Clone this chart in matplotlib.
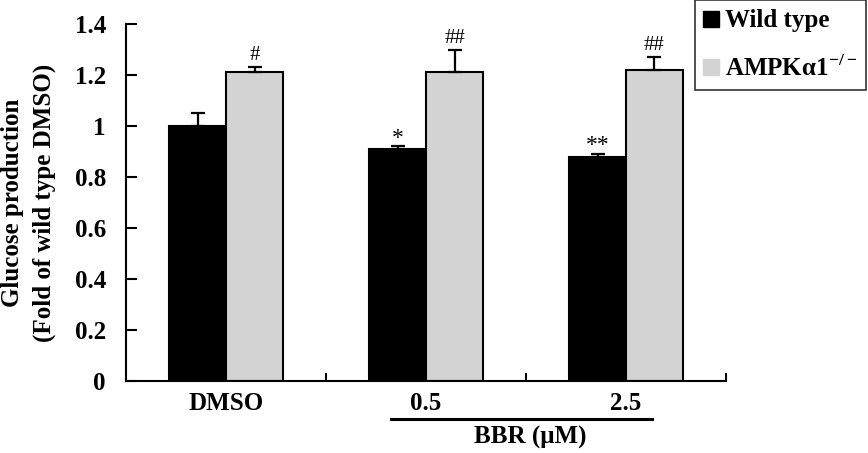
import numpy as np
import matplotlib
matplotlib.use("Agg")
import matplotlib.pyplot as plt
from matplotlib.lines import Line2D
import matplotlib.transforms as mtransforms

plt.rcParams['font.family'] = ['Liberation Serif', 'DejaVu Serif']
plt.rcParams['mathtext.fontset'] = 'custom'
plt.rcParams['mathtext.rm'] = 'Liberation Serif:bold'
plt.rcParams['mathtext.bf'] = 'Liberation Serif:bold'

# data
groups = ['DMSO', '0.5', '2.5']
wild_type = [1.00, 0.91, 0.88]
wild_type_err = [0.05, 0.01, 0.01]
ampk_ko = [1.21, 1.21, 1.22]
ampk_ko_err = [0.02, 0.09, 0.05]
wild_marks = ['', '*', '**']
ampk_marks = ['#', '##', '##']

fig = plt.figure(figsize=(8.68, 4.53), dpi=100)
ax = fig.add_axes([0.1452, 0.159, 0.6912, 0.788])

x = np.arange(len(groups))
w = 0.285
off = 0.1425
err_kw = dict(ecolor='black', elinewidth=1.6, capsize=5, capthick=1.6)

ax.bar(x - off, wild_type, w, color='black', edgecolor='black', linewidth=1.5,
       yerr=[np.zeros(3), wild_type_err], error_kw=err_kw, label='Wild type', zorder=2)
ax.bar(x + off, ampk_ko, w, color='#d3d3d3', edgecolor='black', linewidth=1.5,
       yerr=[np.zeros(3), ampk_ko_err], error_kw=err_kw, label='AMPKα1$^{-/-}$', zorder=2)

# significance marks
for i in range(len(groups)):
    if wild_marks[i]:
        ax.annotate(wild_marks[i], (x[i] - off, wild_type[i] + wild_type_err[i]),
                    xytext=(0, 2), textcoords='offset points', ha='center', va='baseline',
                    fontsize=17)
    if ampk_marks[i]:
        ax.annotate(ampk_marks[i], (x[i] + off, ampk_ko[i] + ampk_ko_err[i]),
                    xytext=(0, 5), textcoords='offset points', ha='center', va='baseline',
                    fontsize=15)

ax.set_xlim(-0.5, 2.5)
ax.set_ylim(0, 1.4)
ax.set_yticks(np.arange(0, 1.41, 0.2))
ax.set_yticklabels(['0', '0.2', '0.4', '0.6', '0.8', '1', '1.2', '1.4'])
ax.set_xticks(x)
ax.set_xticklabels(groups)
ax.set_xticks([0.5, 1.5, 2.5], minor=True)
ax.tick_params(axis='x', which='major', length=0, pad=8)
ax.tick_params(axis='x', which='minor', direction='in', length=6, width=1.5)
ax.tick_params(axis='y', direction='in', length=8, width=1.5, pad=14.5)
for lab in ax.get_xticklabels() + ax.get_yticklabels():
    lab.set_fontsize(18)
    lab.set_fontweight('bold')

ax.spines['top'].set_visible(False)
ax.spines['right'].set_visible(False)
ax.spines['left'].set_linewidth(1.5)
ax.spines['bottom'].set_linewidth(1.5)

ax.set_ylabel('Glucose production\n(Fold of wild type DMSO)', fontsize=18,
              fontweight='bold', linespacing=1.45, labelpad=13.5)

# BBR bracket under the two treatment groups
trans = mtransforms.blended_transform_factory(ax.transData, ax.transAxes)
ax.plot([0.825, 2.13], [-0.106, -0.106], color='black', lw=2.2,
        transform=trans, clip_on=False)
ax.text(1.52, -0.157, 'BBR (μM)', transform=trans, ha='center', va='center',
        fontsize=18, fontweight='bold')

handles = [Line2D([], [], marker='s', linestyle='none', markersize=11,
                  markerfacecolor='black', markeredgecolor='black'),
           Line2D([], [], marker='s', linestyle='none', markersize=11,
                  markerfacecolor='#d3d3d3', markeredgecolor='#d3d3d3')]
leg = fig.legend(handles, ['Wild type', 'AMPKα1$^{-/-}$'], loc='upper right',
                 bbox_to_anchor=(0.998, 0.999), fancybox=False, edgecolor='#333333',
                 framealpha=1, prop={'size': 18, 'weight': 'bold'},
                 handlelength=0.6, handletextpad=0.25, labelspacing=0.9,
                 borderpad=0.36, borderaxespad=0)
leg.get_frame().set_linewidth(1.2)

fig.savefig('out.png', dpi=100)
